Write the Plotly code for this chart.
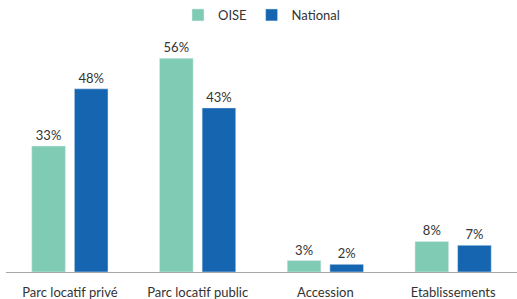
import plotly.graph_objects as go

categories = ["Parc locatif privé", "Parc locatif public", "Accession", "Etablissements"]
oise = [33, 56, 3, 8]
national = [48, 43, 2, 7]

fig = go.Figure()
fig.add_trace(go.Bar(name="OISE", x=categories, y=oise, marker_color="#7FCBB4",
                     text=[f"{v}%" for v in oise], textposition="outside",
                     textfont=dict(size=13, color="#333333"), cliponaxis=False))
fig.add_trace(go.Bar(name="National", x=categories, y=national, marker_color="#1565B0",
                     text=[f"{v}%" for v in national], textposition="outside",
                     textfont=dict(size=13, color="#333333"), cliponaxis=False))

fig.update_layout(
    width=517, height=299,
    margin=dict(l=6, r=0, t=43, b=27),
    paper_bgcolor="white", plot_bgcolor="white",
    barmode="group", bargap=0.333, bargroupgap=0.21,
    font=dict(family="Lato, Open Sans, sans-serif", size=13, color="#333333"),
    legend=dict(orientation="h", x=0.5, xanchor="center", y=1.0, yanchor="top",
                yref="container", font=dict(size=13, color="#333333"),
                itemwidth=30),
    xaxis=dict(showline=True, linecolor="#A6A6A6", linewidth=1, ticks="",
               tickfont=dict(size=13, color="#333333"), ticklabelstandoff=8),
    yaxis=dict(visible=False, range=[0, 60]),
)
fig.write_html("out.html", config={"displayModeBar": False},
               post_script="document.body.style.margin='0';document.body.style.padding='0';")
